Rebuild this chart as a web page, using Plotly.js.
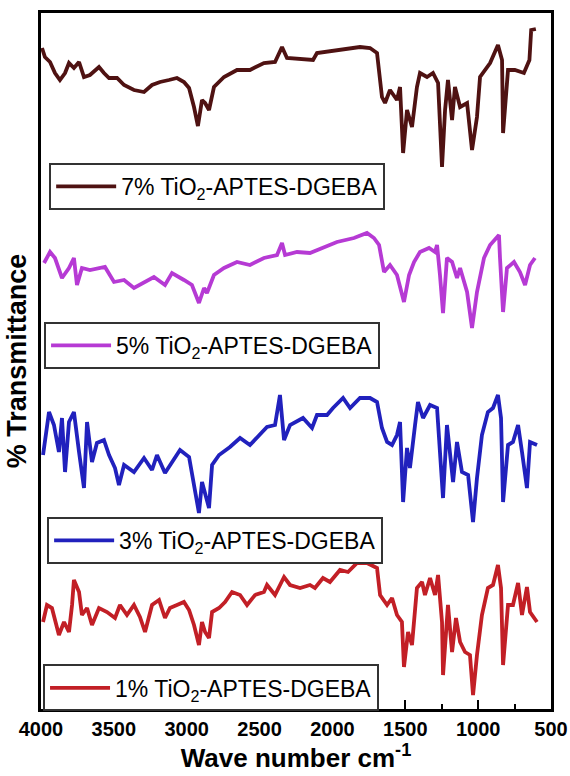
<!DOCTYPE html>
<html>
<head>
<meta charset="utf-8">
<script src="https://cdn.plot.ly/plotly-3.0.1.min.js"></script>
<style>html,body{margin:0;padding:0;background:#fff;}#chart{width:570px;height:776px;}</style>
</head>
<body>
<div id="chart"></div>
<script>
// Wavenumbers (cm-1) and offset transmittance (arbitrary units)
const wn7 = [3993,3973,3938,3904,3870,3835,3808,3774,3739,3705,3664,3602,3568,3533,3478,3430,3362,3293,3238,3183,3122,3067,3019,2984,2950,2923,2895,2874,2847,2813,2744,2655,2566,2470,2394,2346,2312,2133,2106,1969,1811,1742,1694,1660,1639,1605,1557,1536,1515,1488,1454,1420,1399,1351,1310,1275,1248,1227,1207,1179,1159,1124,1076,1042,1008,987,918,864,836,829,795,748,686,648,636,604];
const t7 = [661,652,647,636,629,636,646,641,647,632,634,642,636,631,631,624,619,617,624,627,629,631,627,621,602,583,609,606,599,622,632,639,639,646,647,662,651,649,656,659,662,661,656,612,606,619,609,622,556,599,582,622,636,632,636,626,542,599,629,589,622,602,606,559,592,632,646,664,649,576,639,639,636,649,679,680];

const wn5 = [3979,3938,3904,3856,3808,3774,3753,3719,3664,3561,3499,3430,3362,3293,3225,3149,3101,3019,2964,2916,2881,2861,2813,2744,2655,2566,2470,2380,2346,2325,2243,2154,2058,1969,1852,1763,1715,1680,1646,1605,1557,1523,1509,1474,1440,1399,1337,1296,1282,1262,1241,1214,1179,1145,1124,1076,1042,1008,960,918,857,850,829,802,754,713,678,644,610];
const t5 = [446,457,451,431,441,451,424,441,439,442,427,429,421,427,432,424,436,429,424,406,421,416,434,441,447,444,451,454,466,454,457,456,462,467,471,476,471,464,437,444,434,417,407,434,447,457,461,457,464,434,396,451,447,431,441,417,381,417,451,464,474,451,397,441,447,437,424,444,451];

const wn3 = [3986,3945,3911,3877,3856,3835,3808,3774,3739,3705,3684,3650,3616,3568,3533,3492,3465,3430,3362,3293,3238,3204,3149,3087,3046,2984,2950,2916,2895,2874,2847,2826,2778,2703,2634,2566,2497,2449,2394,2360,2332,2291,2202,2140,2106,2037,1996,1927,1879,1811,1742,1694,1660,1625,1591,1557,1536,1515,1488,1468,1433,1413,1378,1330,1282,1262,1241,1214,1193,1172,1145,1111,1069,1035,1008,974,933,898,864,843,829,795,761,726,699,665,644,596];
const t3 = [254,297,284,257,291,237,287,297,257,221,287,247,266,269,254,241,224,244,237,251,239,254,236,249,259,252,224,196,227,214,201,244,254,262,271,264,274,282,284,314,269,284,291,281,294,294,301,311,301,311,311,307,281,267,264,274,287,207,261,241,284,307,291,304,301,257,211,284,257,227,267,237,234,187,231,274,297,301,314,291,207,264,267,284,257,221,267,264];

const wn1 = [3986,3959,3925,3877,3842,3808,3787,3774,3739,3719,3684,3650,3602,3547,3492,3458,3410,3362,3321,3286,3238,3190,3149,3115,3067,3019,2984,2950,2916,2895,2874,2847,2826,2778,2737,2689,2634,2586,2531,2470,2449,2394,2332,2291,2222,2154,2120,2065,2017,1948,1893,1831,1763,1694,1673,1625,1591,1557,1523,1509,1481,1454,1420,1385,1365,1330,1296,1275,1248,1241,1207,1179,1152,1124,1090,1056,1035,1008,974,933,898,864,843,829,795,761,726,699,665,644,596];
const t1 = [87,104,101,74,87,77,104,129,117,94,101,84,101,97,91,104,94,104,92,77,104,109,91,101,104,107,99,84,64,87,77,71,97,101,107,117,114,104,114,117,124,114,132,124,121,124,121,131,127,139,137,146,146,141,114,104,111,94,87,42,77,64,121,127,114,131,114,134,87,34,104,57,91,67,57,54,14,54,94,121,124,144,121,44,104,104,126,94,122,97,87];

const seriesNames = [
  "7% TiO<sub>2</sub>-APTES-DGEBA",
  "5% TiO<sub>2</sub>-APTES-DGEBA",
  "3% TiO<sub>2</sub>-APTES-DGEBA",
  "1% TiO<sub>2</sub>-APTES-DGEBA"
];
const seriesColors = ["#4f1212", "#b63ad4", "#2121bd", "#c21f26"];
const xTicks = [4000, 3500, 3000, 2500, 2000, 1500, 1000, 500];

const FONT = "Arial, 'Liberation Sans', sans-serif";
const xs = [wn7, wn5, wn3, wn1];
const ys = [t7, t5, t3, t1];
const legendIds = ["legend", "legend2", "legend3", "legend4"];

const traces = xs.map((x, i) => ({
  type: "scatter", mode: "lines",
  x: x, y: ys[i],
  name: seriesNames[i],
  legend: legendIds[i],
  line: {color: seriesColors[i], width: 3.8},
  showlegend: true
}));

function legendBox(x, y) {
  return {
    x: x, y: y, xanchor: "left", yanchor: "top",
    xref: "paper", yref: "paper",
    bgcolor: "white", bordercolor: "#333", borderwidth: 2,
    font: {family: FONT, size: 23, color: "black"},
    itemwidth: 60
  };
}

const layout = {
  width: 570, height: 776,
  margin: {l: 41, r: 19, t: 13, b: 67},
  paper_bgcolor: "white", plot_bgcolor: "white",
  font: {family: FONT, color: "black"},
  showlegend: true,
  legend: legendBox(0.016, 0.7845),
  legend2: legendBox(0.006, 0.556),
  legend3: legendBox(0.012, 0.276),
  legend4: legendBox(0.004, 0.064),
  xaxis: {
    range: [4000, 500],
    tickvals: xTicks,
    ticks: "inside", ticklen: 9, tickwidth: 2, tickcolor: "black",
    minor: {dtick: 250, ticks: "inside", ticklen: 5, tickwidth: 2, tickcolor: "black"},
    showline: true, linewidth: 3, linecolor: "black", mirror: true,
    showgrid: false, zeroline: false,
    tickfont: {family: FONT, size: 20, color: "black", weight: "bold"},
    title: {text: "Wave number cm<sup>-1</sup>", font: {family: FONT, size: 26, color: "black", weight: "bold"}, standoff: 6}
  },
  yaxis: {
    range: [0, 696],
    showticklabels: false, ticks: "",
    showline: true, linewidth: 3, linecolor: "black", mirror: true,
    showgrid: false, zeroline: false,
    title: {text: "% Transmittance", font: {family: FONT, size: 27, color: "black", weight: "bold"}, standoff: 4}
  }
};

Plotly.newPlot("chart", traces, layout, {displayModeBar: false, staticPlot: true});
</script>
</body>
</html>
